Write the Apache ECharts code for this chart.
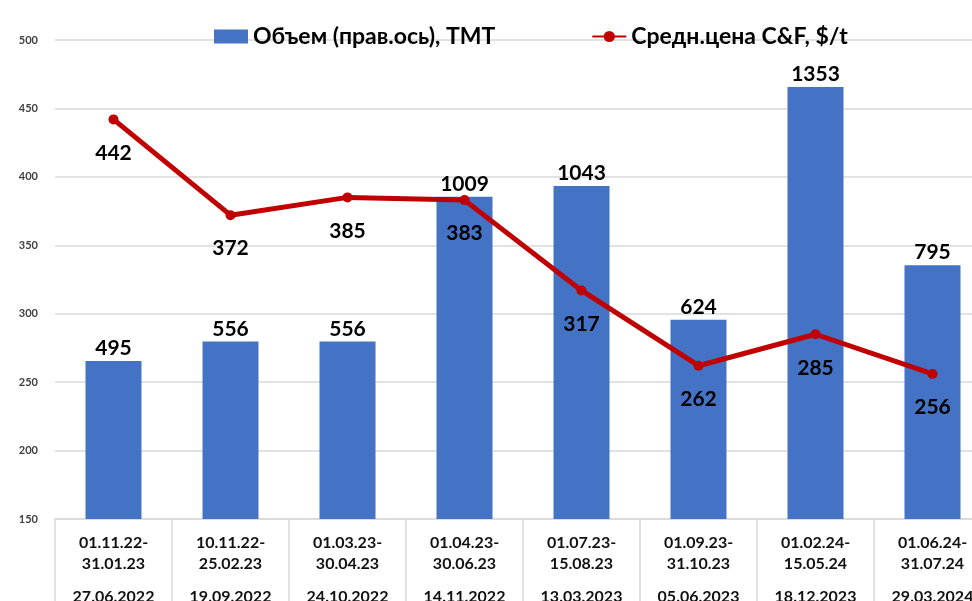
<!DOCTYPE html>
<html>
<head>
<meta charset="utf-8">
<script src="https://cdn.jsdelivr.net/npm/echarts@6/dist/echarts.min.js"></script>
<style>
  html, body { margin: 0; padding: 0; background: #fff; }
  #chart { width: 972px; height: 601px; }
</style>
</head>
<body>
<div id="chart"></div>
<script>
const periods = ['01.11.22-\n31.01.23', '10.11.22-\n25.02.23', '01.03.23-\n30.04.23', '01.04.23-\n30.06.23',
  '01.07.23-\n15.08.23', '01.09.23-\n31.10.23', '01.02.24-\n15.05.24', '01.06.24-\n31.07.24'];
const dates = ['27.06.2022', '19.09.2022', '24.10.2022', '14.11.2022', '13.03.2023', '05.06.2023', '18.12.2023', '29.03.2024'];
const volume = [495, 556, 556, 1009, 1043, 624, 1353, 795];
const price = [442, 372, 385, 383, 317, 262, 285, 256];

const font = 'Lato, "Open Sans", sans-serif';
const chart = echarts.init(document.getElementById('chart'));

const option = {
  animation: false,
  textStyle: { fontFamily: font },
  legend: {
    left: 209,
    top: 20,
    itemGap: 96,
    itemWidth: 34,
    itemHeight: 14,
    textStyle: { fontSize: 23, fontWeight: 'bold', color: '#000', fontFamily: font },
    data: [
      { name: 'Объем (прав.ось), ТМТ', icon: 'rect' },
      { name: 'Средн.цена C&F, $/t' }
    ]
  },
  grid: { left: 55, top: 40, width: 936, height: 479, outerBoundsMode: 'none' },
  xAxis: [
    {
      type: 'category',
      data: periods,
      axisLine: { lineStyle: { color: '#d9d9d9', width: 1.5 } },
      axisTick: { show: true, length: 90, interval: 0, lineStyle: { color: '#d9d9d9', width: 1.5 } },
      axisLabel: {
        interval: 0, margin: 13, lineHeight: 21,
        fontSize: 16, fontWeight: 'bold', color: '#111', fontFamily: font
      }
    },
    {
      type: 'category',
      data: dates,
      position: 'bottom',
      axisLine: { show: false },
      axisTick: { show: false },
      axisLabel: {
        interval: 0, margin: 70,
        fontSize: 16, fontWeight: 'bold', color: '#111', fontFamily: font
      }
    }
  ],
  yAxis: [
    {
      type: 'value',
      min: 150, max: 500, interval: 50,
      axisLine: { show: false },
      axisTick: { show: false },
      axisLabel: { fontSize: 11, fontWeight: 'bold', color: '#404040', margin: 17, fontFamily: font },
      splitLine: { lineStyle: { color: '#d9d9d9', width: 1.5 } }
    },
    {
      type: 'value',
      min: 0, max: 1500,
      show: false,
      splitLine: { show: false }
    }
  ],
  series: [
    {
      name: 'Объем (прав.ось), ТМТ',
      type: 'bar',
      yAxisIndex: 1,
      barWidth: 56,
      data: volume,
      itemStyle: { color: '#4472c4' },
      label: {
        show: true, position: 'top', distance: 2,
        fontSize: 21, fontWeight: 'bold', color: '#000', fontFamily: font
      }
    },
    {
      name: 'Средн.цена C&F, $/t',
      type: 'line',
      data: price,
      symbol: 'circle',
      symbolSize: 10,
      lineStyle: { color: '#c00000', width: 5 },
      itemStyle: { color: '#c00000' },
      label: {
        show: true, position: 'bottom', distance: 18,
        fontSize: 21, fontWeight: 'bold', color: '#000', fontFamily: font
      },
      z: 3
    }
  ]
};

chart.setOption(option);
</script>
</body>
</html>
